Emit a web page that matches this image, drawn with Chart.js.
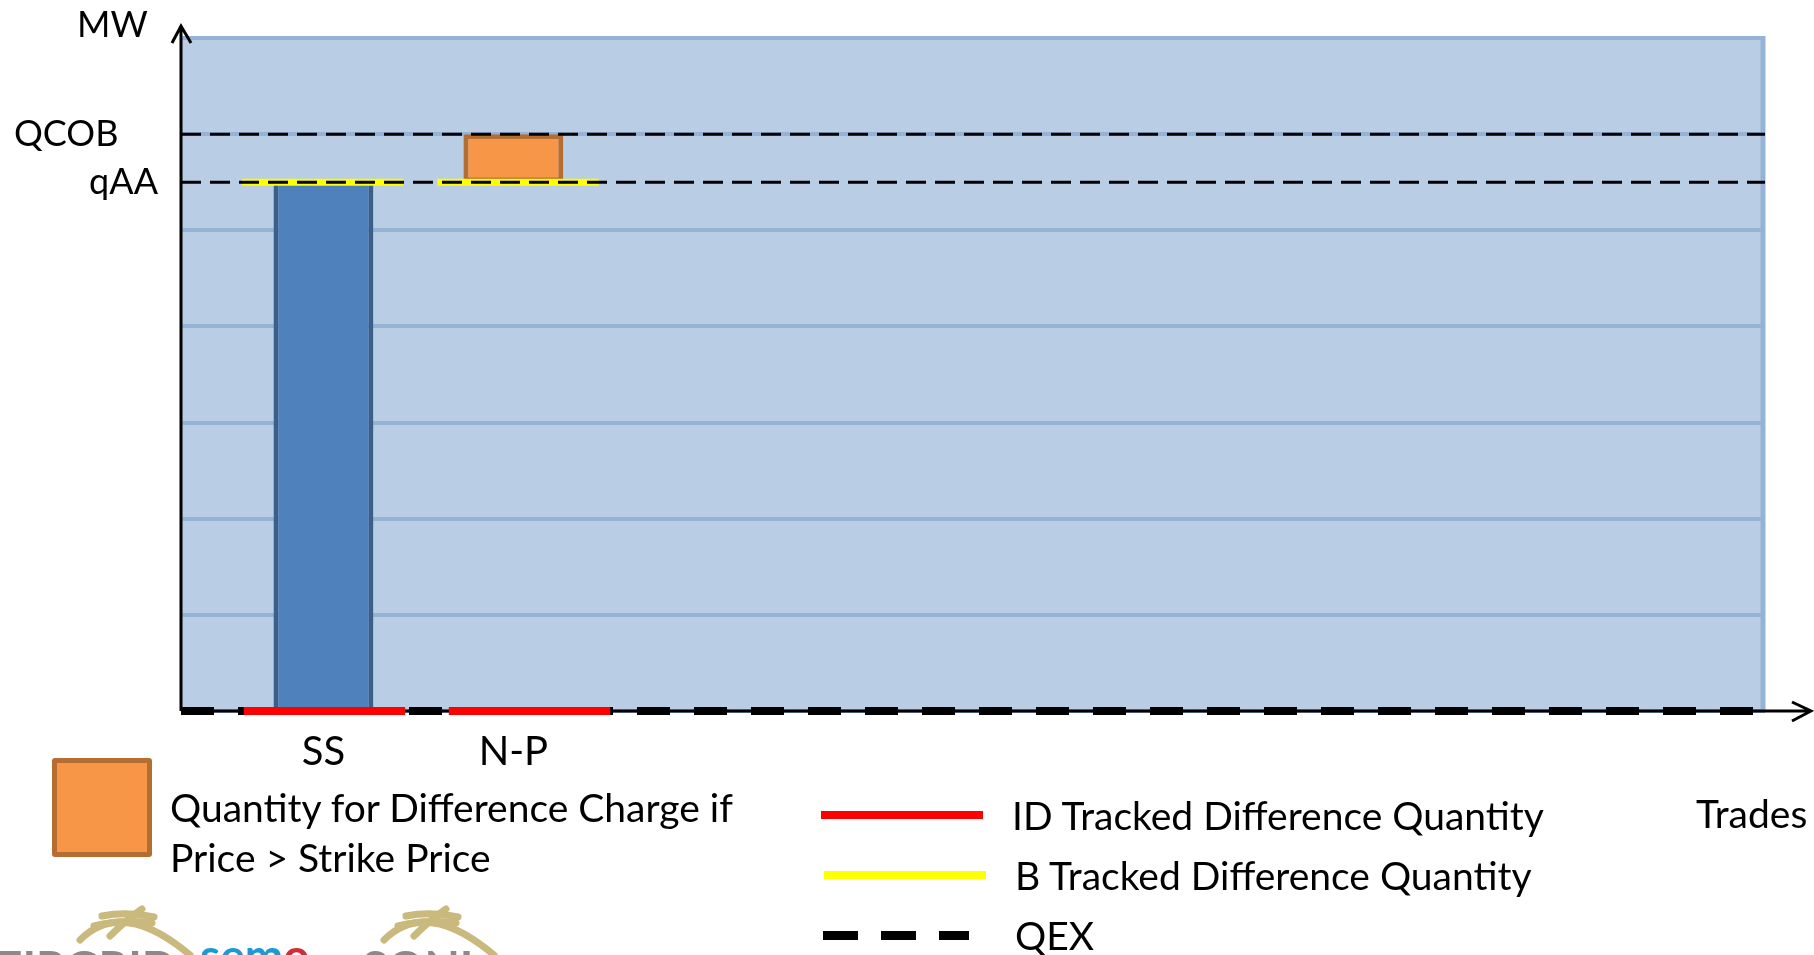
<!DOCTYPE html>
<html>
<head>
<meta charset="utf-8">
<title>Tracked Difference Quantities</title>
<script src="https://cdn.jsdelivr.net/npm/chart.js@4.4.0/dist/chart.umd.min.js"></script>
<style>
    html, body { margin: 0; padding: 0; background: #fff; }
    body { width: 1814px; height: 955px; position: relative; overflow: hidden; font-family: Lato, "Open Sans", sans-serif; }
    #chart { position: absolute; left: 0; top: 0; }
    .key { position: absolute; font-size: 39px; line-height: 50px; color: #000; white-space: nowrap; }
    .sample { position: absolute; }
    #logos { position: absolute; left: 0; top: 880px; }
</style>
</head>
<body>
<canvas id="chart" width="1814" height="955"></canvas>

<div class="sample" style="left:52px; top:758px; width:100px; height:99px; box-sizing:border-box; background:#f79646; border:5px solid #b66d31; border-radius:3px;"></div>
<div class="key" style="left:170px; top:782px;">Quantity for Difference Charge if<br>Price &gt; Strike Price</div>

<div class="sample" style="left:821px; top:811px; width:162px; height:8px; background:#ff0000;"></div>
<div class="key" style="left:1012px; top:790px;">ID Tracked Difference Quantity</div>

<div class="sample" style="left:824px; top:871px; width:162px; height:8px; background:#ffff00;"></div>
<div class="key" style="left:1015px; top:850px;">B Tracked Difference Quantity</div>

<div class="sample" style="left:823px; top:931px; width:146px; height:9px; background:repeating-linear-gradient(90deg, #000 0 35px, transparent 35px 58px);"></div>
<div class="key" style="left:1015px; top:910px;">QEX</div>

<div class="key" style="left:1696px; top:788px;">Trades</div>

<!-- partner logos, cut off by the bottom edge -->
<svg id="logos" width="520" height="75" viewBox="0 0 520 75">
    <g fill="none" stroke="#c9b97c" stroke-width="7" stroke-linecap="round">
        <path d="M80 60 Q122 18 190 75"/>
        <path d="M94 46 Q122 39 152 43"/>
        <path d="M102 36 Q127 31 154 37"/>
        <path d="M110 56 Q127 39 142 29"/>
        <path d="M384 60 Q426 18 494 75"/>
        <path d="M398 46 Q426 39 456 43"/>
        <path d="M406 36 Q431 31 458 37"/>
        <path d="M414 56 Q431 39 446 29"/>
    </g>
    <g font-family="Lato, sans-serif" font-weight="bold" font-size="46">
        <text x="-4" y="104" fill="#8a8a8a">EIRGRID</text>
        <text x="200" y="92" fill="#1a9ad6">sem<tspan fill="#d02f3a">o</tspan></text>
        <text x="362" y="104" fill="#8a8a8a">SONI</text>
    </g>
</svg>

<script>
// -----------------------------
// Data
// -----------------------------
const categories = ["SS", "N-P"];
const catPos = [0.75, 1.75];
const xMax = 8.34;
const yMax = 7;

// reference quantities (MW)
const levelNames = ["QCOB", "qAA"];
const levelValues = [6, 5.5];

// bars as [from, to] per category
const trackedQty = [[0, 5.5], null];
const diffChargeQty = [null, [5.5, 6]];

// tracked difference segments [xStart, xEnd]
const idSpans = [[0.33, 1.18], [1.41, 2.26]];
const idLevel = 0;
const bSpans = [[0.32, 1.17], [1.35, 2.2]];
const bLevel = 5.5;
const qexLevel = 0;

const FONT = "Lato, 'Open Sans', sans-serif";


// -----------------------------
// Helpers
// -----------------------------
function barPoints(vals) {
    return vals
        .map((v, i) => (v ? { x: catPos[i], y: v } : null))
        .filter(Boolean);
}

// one dataset, several pieces: a null point between spans breaks the line
function spanPoints(spans, level) {
    const pts = [];
    spans.forEach(([a, b], i) => {
        if (i > 0) pts.push({ x: (spans[i - 1][1] + a) / 2, y: null });
        pts.push({ x: a, y: level }, { x: b, y: level });
    });
    return pts;
}

function flatLine(level) {
    return [{ x: 0, y: level }, { x: xMax, y: level }];
}

function lineSet(data, color, width, dash, order) {
    return {
        type: "line",
        data: data,
        borderColor: color,
        borderWidth: width,
        borderDash: dash,
        borderCapStyle: "butt",
        pointRadius: 0,
        spanGaps: false,
        clip: false,
        order: order
    };
}


// -----------------------------
// Plot frame, axes and level names
// -----------------------------
const frame = {
    id: "frame",
    beforeDraw(chart) {
        const { ctx, chartArea: a } = chart;
        ctx.save();
        ctx.fillStyle = "#b9cde5";
        ctx.fillRect(a.left, a.top, a.right - a.left, a.bottom - a.top);
        ctx.restore();
    },
    beforeDatasetsDraw(chart) {
        const { ctx, chartArea: a } = chart;
        ctx.save();

        // right edge
        ctx.strokeStyle = "#95b3d7";
        ctx.lineWidth = 5;
        ctx.beginPath();
        ctx.moveTo(a.right - 2, a.top - 2);
        ctx.lineTo(a.right - 2, a.bottom);
        ctx.stroke();

        // axes with open arrow heads
        ctx.strokeStyle = "#000";
        ctx.lineWidth = 3;
        ctx.beginPath();
        ctx.moveTo(a.left, a.bottom);
        ctx.lineTo(a.left, 26);
        ctx.moveTo(a.left - 9, 43);
        ctx.lineTo(a.left, 26);
        ctx.lineTo(a.left + 10, 43);

        ctx.moveTo(a.left, a.bottom);
        ctx.lineTo(1811, a.bottom);
        ctx.moveTo(1792, a.bottom - 9);
        ctx.lineTo(1811, a.bottom);
        ctx.lineTo(1792, a.bottom + 10);
        ctx.stroke();
        ctx.restore();
    },
    afterDraw(chart) {
        const { ctx } = chart;
        const y = chart.scales.y;
        ctx.save();
        ctx.fillStyle = "#000";
        ctx.font = "36px " + FONT;
        ctx.textBaseline = "alphabetic";

        ctx.textAlign = "left";
        ctx.fillText("MW", 77, 37);

        // QCOB sits further out than qAA
        ctx.fillText(levelNames[0], 14, y.getPixelForValue(levelValues[0]) + 12);
        ctx.textAlign = "right";
        ctx.fillText(levelNames[1], 158, y.getPixelForValue(levelValues[1]) + 12);
        ctx.restore();
    }
};


// -----------------------------
// Chart
// -----------------------------
new Chart(document.getElementById("chart"), {
    type: "bar",
    data: {
        datasets: [
            lineSet(spanPoints(idSpans, idLevel), "#ff0000", 8, [], 0),
            lineSet(flatLine(levelValues[0]), "#000", 3, [20, 9], 1),
            lineSet(flatLine(levelValues[1]), "#000", 3, [20, 9], 1),
            lineSet(flatLine(qexLevel), "#000", 8, [33, 24], 2),
            lineSet(spanPoints(bSpans, bLevel), "#ffff00", 7, [], 3),
            {
                type: "bar",
                data: barPoints(diffChargeQty),
                backgroundColor: "#f79646",
                borderColor: "#b66d31",
                borderWidth: 5,
                borderSkipped: false,
                borderRadius: 2,
                grouped: false,
                categoryPercentage: 1,
                barPercentage: 0.526,
                order: 4
            },
            {
                type: "bar",
                data: barPoints(trackedQty),
                backgroundColor: "#4f81bd",
                borderColor: "#3a5f8b",
                borderWidth: { left: 5, right: 5, top: 0, bottom: 0 },
                borderSkipped: false,
                grouped: false,
                categoryPercentage: 1,
                barPercentage: 0.526,
                order: 5
            }
        ]
    },
    options: {
        responsive: false,
        animation: false,
        layout: { padding: { left: 181, right: 49, top: 38, bottom: 162 } },
        plugins: {
            legend: { display: false },
            tooltip: { enabled: false }
        },
        scales: {
            x: {
                type: "linear",
                min: 0,
                max: xMax,
                offset: false,
                grid: { display: false, drawTicks: false, offset: false },
                border: { display: false },
                afterBuildTicks: (scale) => {
                    scale.ticks = catPos.map((v) => ({ value: v }));
                },
                ticks: {
                    autoSkip: false,
                    maxRotation: 0,
                    padding: 17,
                    color: "#000",
                    font: { family: FONT, size: 40 },
                    callback: (v, i) => categories[i]
                }
            },
            y: {
                type: "linear",
                min: 0,
                max: yMax,
                grid: { color: "#95b3d7", lineWidth: 4, drawTicks: false },
                border: { display: false },
                ticks: { stepSize: 1, display: false }
            }
        }
    },
    plugins: [frame]
});
</script>
</body>
</html>
